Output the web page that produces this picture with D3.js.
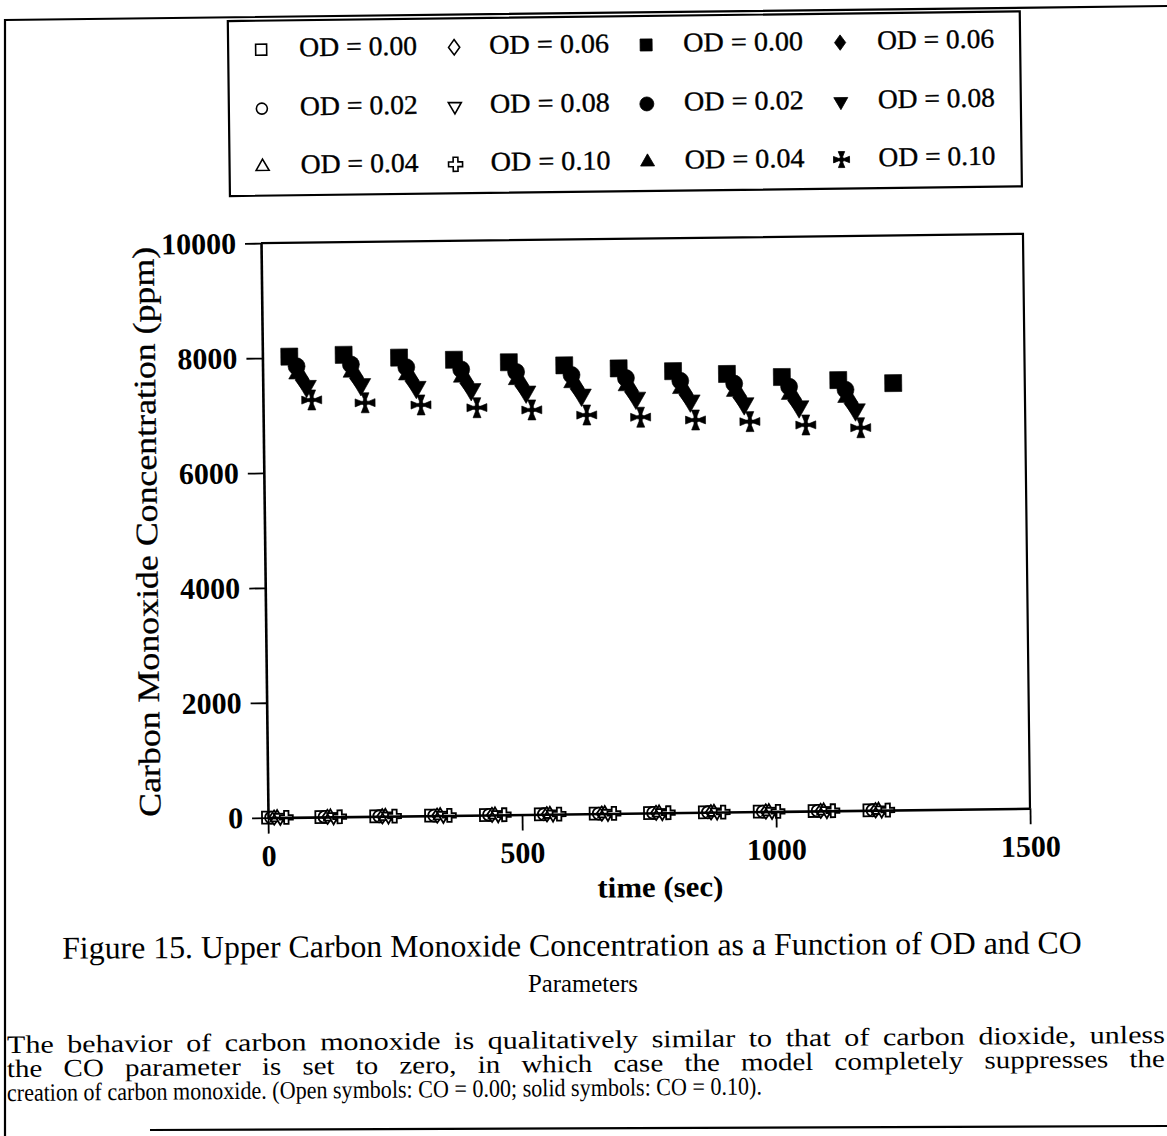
<!DOCTYPE html>
<html>
<head>
<meta charset="utf-8">
<script src="https://cdn.jsdelivr.net/npm/d3@7"></script>
<style>
  html, body { margin: 0; padding: 0; background: #fff; }
  svg { display: block; }
</style>
</head>
<body>
<svg id="fig" width="1167" height="1136"></svg>
<script>
// ---- axis ticks ----
const xTicks = [0, 500, 1000, 1500];
const yTicks = [0, 2000, 4000, 6000, 8000, 10000];

// ---- legend labels ----
const odLabels = ["OD = 0.00", "OD = 0.02", "OD = 0.04", "OD = 0.06", "OD = 0.08", "OD = 0.10"];

// ---- open symbols: CO = 0.00 (no carbon monoxide produced) ----
const openTime00 = [0, 105, 213, 321, 429, 537, 645, 752, 860, 968, 1076, 1184];
const openTime02 = [6, 111, 219, 327, 435, 543, 651, 758, 866, 974, 1082, 1190];
const openTime04 = [18, 123, 231, 339, 447, 555, 663, 770, 878, 986, 1094, 1202];
const openTime06 = [12, 117, 225, 333, 441, 549, 657, 764, 872, 980, 1088, 1196];
const openTime08 = [24, 129, 237, 345, 453, 561, 669, 776, 884, 992, 1100, 1208];
const openTime10 = [36, 141, 249, 357, 465, 573, 681, 788, 896, 1004, 1112, 1220];
const openCO = [0, 0, 0, 0, 0, 0, 0, 0, 0, 0, 0, 0];

// ---- solid symbols: CO = 0.10 ----
const solidTime00 = [53, 160, 269, 377, 485, 594, 701, 808, 914, 1022, 1133, 1241];
const solidCO00   = [8020, 8040, 7980, 7930, 7875, 7810, 7745, 7685, 7625, 7560, 7495, 7430];
const solidTime02 = [67, 174, 283, 391, 499, 608, 715, 822, 928, 1036, 1147];
const solidCO02   = [7850, 7870, 7810, 7760, 7705, 7640, 7575, 7515, 7455, 7390, 7325];
const solidTime04 = [71, 178, 287, 395, 503, 612, 719, 826, 932, 1040, 1151];
const solidCO04   = [7730, 7750, 7690, 7640, 7585, 7520, 7455, 7395, 7335, 7270, 7205];
const solidTime06 = [78, 185, 294, 402, 510, 619, 726, 833, 939, 1047, 1158];
const solidCO06   = [7610, 7630, 7570, 7520, 7465, 7400, 7335, 7275, 7215, 7150, 7085];
const solidTime08 = [86, 193, 302, 410, 518, 627, 734, 841, 947, 1055, 1166];
const solidCO08   = [7500, 7520, 7460, 7410, 7355, 7290, 7225, 7165, 7105, 7040, 6975];
const solidTime10 = [96, 201, 311, 421, 529, 637, 743, 851, 958, 1068, 1176];
const solidCO10   = [7260, 7200, 7150, 7090, 7040, 6940, 6890, 6830, 6790, 6720, 6660];

// ---- marker shapes, w = nominal width in px ----
function patteePath(w) {
  const b = w / 2, t = w * 0.08, m = w * 0.2, e = w * 0.2;
  const arm = [[-t, t], [-t, -m], [-e, -b], [e, -b], [t, -m], [t, t]];
  let p = "";
  for (let k = 0; k < 4; k++) {
    const a = k * Math.PI / 2, c = Math.cos(a), s = Math.sin(a);
    p += arm.map((q, i) => (i ? "L" : "M") + (q[0] * c - q[1] * s).toFixed(2) + "," + (q[0] * s + q[1] * c).toFixed(2)).join("") + "Z";
  }
  return p;
}
const shapes = {
  square: w => { const h = w / 2; return `M${-h},${-h}H${h}V${h}H${-h}Z`; },
  circle: w => { const r = w / 2; return `M${r},0A${r},${r} 0 1,1 ${-r},0A${r},${r} 0 1,1 ${r},0Z`; },
  triUp: w => { const h = w * 0.866; return `M0,${-h * 2 / 3}L${w / 2},${h / 3}L${-w / 2},${h / 3}Z`; },
  triDown: w => { const h = w * 0.866; return `M0,${h * 2 / 3}L${w / 2},${-h / 3}L${-w / 2},${-h / 3}Z`; },
  diamond: w => `M0,${-w * 0.55}L${w * 0.4},0L0,${w * 0.55}L${-w * 0.4},0Z`,
  plus: w => { const a = w * 0.17, b = w / 2; return `M${-a},${-b}H${a}V${-a}H${b}V${a}H${a}V${b}H${-a}V${a}H${-b}V${-a}H${-a}Z`; },
  pattee: patteePath
};

const openSeries = [
  { t: openTime00, v: openCO, shape: "square", size: 12 },
  { t: openTime02, v: openCO, shape: "circle", size: 12 },
  { t: openTime06, v: openCO, shape: "diamond", size: 13 },
  { t: openTime04, v: openCO, shape: "triUp", size: 13 },
  { t: openTime08, v: openCO, shape: "triDown", size: 13 },
  { t: openTime10, v: openCO, shape: "plus", size: 13 }
];
const solidSeries = [
  { t: solidTime00, v: solidCO00, shape: "square", size: 17 },
  { t: solidTime02, v: solidCO02, shape: "circle", size: 17 },
  { t: solidTime04, v: solidCO04, shape: "triUp", size: 20 },
  { t: solidTime06, v: solidCO06, shape: "diamond", size: 18 },
  { t: solidTime08, v: solidCO08, shape: "triDown", size: 20 },
  { t: solidTime10, v: solidCO10, shape: "pattee", size: 20 }
];

// ---- layout ----
const W = 1167, H = 1136;
const plot = { left: 264.5, right: 1026.5, top: 238.5, bottom: 813 };
const serif = "'Liberation Serif', 'Times New Roman', serif";

const x = d3.scaleLinear().domain([0, 1500]).range([plot.left, plot.right]);
const y = d3.scaleLinear().domain([0, 10000]).range([plot.bottom, plot.top]);

const svg = d3.select("#fig");
svg.append("rect").attr("width", W).attr("height", H).attr("fill", "#fff");

// page frame
svg.append("path")
  .attr("d", "M5,1136L5,20L1167,6")
  .attr("fill", "none").attr("stroke", "#000").attr("stroke-width", 2.2);
svg.append("path")
  .attr("d", "M150,1130L1167,1126")
  .attr("fill", "none").attr("stroke", "#000").attr("stroke-width", 2.2);

// the figure sits slightly askew on the page
const page = svg.append("g").attr("transform", "rotate(-0.7 645.5 525.75)");

// ---- legend ----
const legend = page.append("g");
legend.append("rect")
  .attr("x", 234).attr("y", 16).attr("width", 792).attr("height", 175)
  .attr("fill", "#fff").attr("stroke", "#000").attr("stroke-width", 2.2);

const legendItems = [
  // row, col, shape, filled, size, label
  [0, 0, "square", false, 11, odLabels[0]], [0, 1, "diamond", false, 14, odLabels[3]],
  [0, 2, "square", true, 12, odLabels[0]], [0, 3, "diamond", true, 14, odLabels[3]],
  [1, 0, "circle", false, 11, odLabels[1]], [1, 1, "triDown", false, 13, odLabels[4]],
  [1, 2, "circle", true, 14, odLabels[1]], [1, 3, "triDown", true, 14, odLabels[4]],
  [2, 0, "triUp", false, 13, odLabels[2]], [2, 1, "plus", false, 14, odLabels[5]],
  [2, 2, "triUp", true, 14, odLabels[2]], [2, 3, "pattee", true, 16, odLabels[5]]
];
const rowBase = [52, 111, 169];
const colSym = [267, 460, 652, 846];
const colText = [305, 495, 689, 883];
const textW = [118, 120, 120, 117];

legendItems.forEach(([r, c, shape, filled, size, label]) => {
  legend.append("path")
    .attr("transform", `translate(${colSym[c]},${rowBase[r] - 7})`)
    .attr("d", shapes[shape](size))
    .attr("fill", filled ? "#000" : "#fff")
    .attr("stroke", "#000")
    .attr("stroke-width", filled ? 0.8 : 1.6);
  legend.append("text")
    .attr("x", colText[c]).attr("y", rowBase[r])
    .attr("font-family", serif).attr("font-size", 27)
    .attr("stroke", "#000").attr("stroke-width", 0.35)
    .attr("textLength", textW[c]).attr("lengthAdjust", "spacingAndGlyphs")
    .text(label);
});

// ---- plot frame and axes ----
const chart = page.append("g");

// markers
const marks = chart.append("g");
openSeries.forEach(s => {
  marks.append("g").selectAll("path")
    .data(s.t.map((t, i) => [t, s.v[i]]))
    .join("path")
    .attr("transform", d => `translate(${x(d[0])},${y(d[1])})`)
    .attr("d", shapes[s.shape](s.size))
    .attr("fill", "#fff").attr("stroke", "#000").attr("stroke-width", 1.8);
});
solidSeries.forEach(s => {
  marks.append("g").selectAll("path")
    .data(s.t.map((t, i) => [t, s.v[i]]))
    .join("path")
    .attr("transform", d => `translate(${x(d[0])},${y(d[1])})`)
    .attr("d", shapes[s.shape](s.size))
    .attr("fill", "#000").attr("stroke", "#000").attr("stroke-width", 0.6);
});

// top and right edges of the frame
chart.append("path")
  .attr("d", `M${x(0)},${y(10000)}H${x(1500)}V${y(0)}`)
  .attr("fill", "none").attr("stroke", "#000").attr("stroke-width", 2.2);

const yAxis = chart.append("g")
  .attr("transform", `translate(${x(0)},0)`)
  .call(d3.axisLeft(y).tickValues(yTicks).tickSize(16).tickSizeOuter(0).tickPadding(9).tickFormat(d3.format("d")));
const xAxis = chart.append("g")
  .attr("transform", `translate(0,${y(0)})`)
  .call(d3.axisBottom(x).tickValues(xTicks).tickSize(16).tickSizeOuter(0).tickPadding(11).tickFormat(d3.format("d")));

[yAxis, xAxis].forEach(a => {
  a.select(".domain").attr("stroke", "#000").attr("stroke-width", 2.6);
  a.selectAll(".tick line").attr("stroke", "#000").attr("stroke-width", 1.8);
  a.selectAll(".tick text")
    .attr("fill", "#000")
    .attr("font-family", serif).attr("font-size", 30).attr("font-weight", "bold");
});

// axis titles
chart.append("text")
  .attr("transform", `translate(157,${(plot.top + plot.bottom) / 2}) rotate(-90)`)
  .attr("text-anchor", "middle")
  .attr("font-family", serif).attr("font-size", 31)
  .attr("stroke", "#000").attr("stroke-width", 0.3)
  .attr("textLength", 570).attr("lengthAdjust", "spacingAndGlyphs")
  .text("Carbon Monoxide Concentration (ppm)");

chart.append("text")
  .attr("x", 656).attr("y", 897)
  .attr("text-anchor", "middle")
  .attr("font-family", serif).attr("font-size", 29).attr("font-weight", "bold")
  .attr("textLength", 126).attr("lengthAdjust", "spacingAndGlyphs")
  .text("time (sec)");

// ---- text helpers ----
// scale a text's font size so that its natural width equals `width`
function fitFont(sel, width) {
  const fs = +sel.attr("font-size");
  const w = sel.node().getComputedTextLength();
  sel.attr("font-size", (fs * width / w).toFixed(2));
}

// ---- figure caption ----
const caption = svg.append("g").attr("font-family", serif).attr("fill", "#000");
const cap1 = caption.append("text")
  .attr("x", 572).attr("y", 956).attr("text-anchor", "middle")
  .attr("transform", "rotate(-0.3 572 956)")
  .attr("font-size", 28)
  .text("Figure 15. Upper Carbon Monoxide Concentration as a Function of OD and CO");
fitFont(cap1, 1020);
const cap2 = caption.append("text")
  .attr("x", 583).attr("y", 992).attr("text-anchor", "middle")
  .attr("font-size", 28)
  .text("Parameters");
fitFont(cap2, 110);

// ---- explanatory paragraph: two justified lines and a short closing line ----
const paraLines = [
  "The behavior of carbon monoxide is qualitatively similar to that of carbon dioxide, unless",
  "the CO parameter is set to zero, in which case the model completely suppresses the",
  "creation of carbon monoxide. (Open symbols: CO = 0.00; solid symbols: CO = 0.10)."
];
const paraBase = [1053, 1077, 1101];
const paraWidth = [1158, 1158, 755];
const wordGap = [5, 12, 0];
const para = svg.append("g").attr("font-family", serif).attr("font-size", 25).attr("fill", "#000");
paraLines.forEach((ln, i) => {
  para.append("text")
    .attr("x", 7).attr("y", paraBase[i])
    .attr("transform", `rotate(-0.5 7 ${paraBase[i]})`)
    .attr("word-spacing", wordGap[i])
    .attr("textLength", paraWidth[i]).attr("lengthAdjust", "spacingAndGlyphs")
    .text(ln);
});
</script>
</body>
</html>
